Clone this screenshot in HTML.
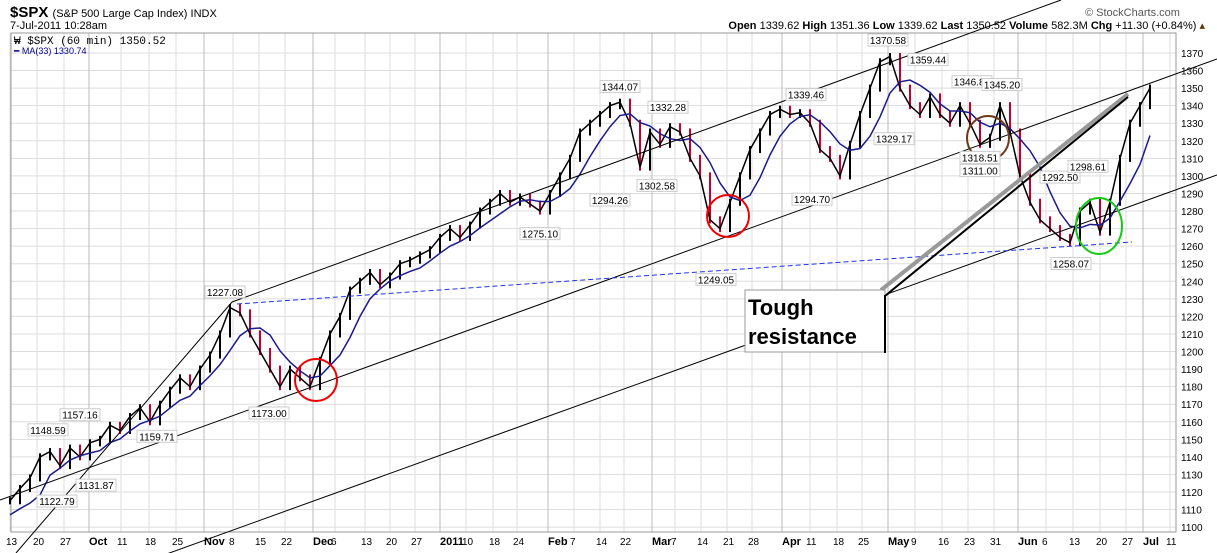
<!DOCTYPE html>
<html><head><meta charset="utf-8"><style>
body{margin:0;background:#fff;width:1217px;height:553px;overflow:hidden;font-family:"Liberation Sans",sans-serif}
svg{position:absolute;left:0;top:0}
</style></head><body>
<svg width="1217" height="553">
<g id="grid"></g>
<rect x="11" y="33" width="1165" height="499" fill="none" stroke="#999"/>
<text x="10" y="17" font-size="15" font-weight="bold">$SPX <tspan font-size="11" font-weight="normal">(S&amp;P 500 Large Cap Index) INDX</tspan></text>
<text x="10" y="29" font-size="11">7-Jul-2011 10:28am</text>
<text x="1085" y="16" font-size="11" fill="#555">© StockCharts.com</text>
<text x="1205" y="29" font-size="11" text-anchor="end"><tspan font-weight="bold">Open</tspan> 1339.62 <tspan font-weight="bold">High</tspan> 1351.36 <tspan font-weight="bold">Low</tspan> 1339.62 <tspan font-weight="bold">Last</tspan> 1350.52 <tspan font-weight="bold">Volume</tspan> 582.3M <tspan font-weight="bold">Chg</tspan> +11.30 (+0.84%) <tspan fill="#630">▴</tspan></text>
<text x="14" y="44" font-size="11" font-family="Liberation Mono,monospace">₩ $SPX (60 min) 1350.52</text>
<text x="14" y="54" font-size="9" fill="#00008b">━ MA(33) 1330.74</text>
<g id="marks"></g>
<g id="ann" fill="none">
<line x1="0" y1="500" x2="1217" y2="59" stroke="#000"/>
<line x1="150" y1="560" x2="1217" y2="175" stroke="#000"/>
<line x1="16" y1="553" x2="232" y2="302" stroke="#000"/>
<line x1="232" y1="302" x2="1061" y2="0" stroke="#000"/>
<line x1="237" y1="304" x2="1132" y2="242" stroke="#2233ee" stroke-dasharray="5,3"/>
<circle cx="316" cy="380" r="21" stroke="#e00" stroke-width="2"/>
<circle cx="728" cy="216" r="21" stroke="#e00" stroke-width="2"/>
<ellipse cx="988" cy="138" rx="21" ry="22" stroke="#6b3a1a" stroke-width="2"/>
<ellipse cx="1099" cy="226" rx="23" ry="28" stroke="#1c1" stroke-width="2"/>
<line x1="881" y1="290" x2="1128" y2="94" stroke="#999" stroke-width="4"/>
<line x1="885" y1="296" x2="1128" y2="97" stroke="#000" stroke-width="2"/>
</g>
<g>
<rect x="745" y="290" width="140" height="62" fill="#fff" stroke="#999"/>
<line x1="885" y1="295" x2="885" y2="353" stroke="#000" stroke-width="2"/>
<text x="748" y="315" font-size="22" font-weight="bold">Tough</text>
<text x="748" y="344" font-size="22" font-weight="bold">resistance</text>
</g>
<g id="labels" font-size="10"></g>
</svg>
<script>
const values=[1115,1122,1128,1140,1143,1135,1145,1140,1148,1150,1158,1155,1163,1168,1160,1170,1178,1185,1180,1190,1198,1210,1225,1222,1210,1200,1190,1180,1190,1185,1180,1195,1210,1220,1235,1240,1245,1238,1243,1250,1252,1255,1258,1265,1270,1265,1272,1280,1285,1290,1285,1288,1284,1280,1290,1300,1310,1325,1330,1335,1340,1342,1330,1305,1325,1318,1328,1325,1310,1300,1275,1270,1285,1300,1315,1325,1335,1338,1335,1336,1330,1315,1310,1300,1318,1335,1350,1365,1368,1350,1340,1335,1345,1335,1330,1340,1330,1318,1322,1340,1325,1300,1285,1275,1270,1265,1262,1280,1285,1268,1285,1310,1330,1340,1350];
const yTicks=[1100,1110,1120,1130,1140,1150,1160,1170,1180,1190,1200,1210,1220,1230,1240,1250,1260,1270,1280,1290,1300,1310,1320,1330,1340,1350,1360,1370];
const xTickLabels=["13","20","27","Oct","11","18","25","Nov","8","15","22","Dec","6","13","20","27","2011","10","18","24","Feb","7","14","22","Mar","7","14","21","28","Apr","11","18","25","May","9","16","23","31","Jun","6","13","20","27","Jul","11"];
const xTickPos=[10,37,64,89,121,149,176,204,233,259,285,313,335,365,390,415,440,466,493,517,548,574,600,624,652,675,701,727,752,782,810,837,862,888,915,942,968,994,1018,1046,1073,1100,1126,1143,1170];
const noteVals=["1148.59","1157.16","1122.79","1131.87","1159.71","1227.08","1173.00","1344.07","1302.58","1294.26","1332.28","1275.10","1249.05","1339.46","1294.70","1370.58","1359.44","1329.17","1346.82","1345.20","1318.51","1311.00","1292.50","1298.61","1258.07"];
const noteX=[48,80,57,96,157,225,269,620,657,610,668,540,716,806,812,888,928,894,972,1002,980,980,1060,1088,1071];
const belowNotes=["1122.79","1131.87","1159.71","1173.00","1302.58","1294.26","1275.10","1249.05","1294.70","1329.17","1318.51","1311.00","1258.07"];
const NS="http://www.w3.org/2000/svg";
const y=v=>53+(1370-v)*1.756;
const x=i=>10+i*(1140/(values.length-1));
function mk(t,a,p){const e=document.createElementNS(NS,t);for(const k in a)e.setAttribute(k,a[k]);p.appendChild(e);return e;}
const grid=document.getElementById('grid');
yTicks.forEach(v=>{
 const l=mk('line',{x1:11,x2:1176,y1:y(v),y2:y(v),stroke:'#ddd'},grid);
 
 
 const t=mk('text',{x:1181,y:y(v)+4,'font-size':10},grid);t.textContent=v;
 
 
});
xTickLabels.forEach((s,i)=>{
 const bold=isNaN(+s)||s==="2011";
 const l=mk('line',{x1:xTickPos[i],x2:xTickPos[i],y1:33,y2:532,stroke:bold?'#bbb':'#ddd'},grid);
 
 
 const t=mk('text',{x:xTickPos[i]+(bold?0:-4),y:545,'font-size':bold?11:10,'font-weight':bold?'bold':'normal'},grid);t.textContent=s;
 
 
});
const marks=document.getElementById('marks');
values.forEach((v,i)=>{
 const p=i?values[i-1]:v;
 const hi=Math.max(v,p)+2,lo=Math.min(v,p)-2;
 const b=mk('line',{x1:x(i),x2:x(i),y1:y(hi),y2:y(lo),stroke:v<p?'#c00030':'#000','stroke-width':2},marks);
 
 
});
const pl=mk('polyline',{points:values.map((v,i)=>x(i)+','+y(v)).join(' '),fill:'none',stroke:'#000','stroke-width':1.5},marks);


const ma=values.map((v,i)=>{const s=values.slice(Math.max(0,i-4),i+1);return s.reduce((a,b)=>a+b,0)/s.length-(i<4?8:0);});
const mp=mk('polyline',{points:ma.map((v,i)=>x(i)+','+y(v)).join(' '),fill:'none',stroke:'#1a1a8c','stroke-width':1.5},marks);


const lab=document.getElementById('labels');
noteVals.forEach((s,i)=>{
 const v=parseFloat(s);
 const below=belowNotes.includes(s);
 const ty=below?y(v)+14:y(v)-12;
 const r=mk('rect',{x:noteX[i]-20,y:ty-6,width:40,height:12,fill:'#fff',stroke:'#ccc'},lab);
 
 
 const t=mk('text',{x:noteX[i],y:ty+4,'text-anchor':'middle'},lab);t.textContent=s;
 
 
});
</script>
</body></html>
